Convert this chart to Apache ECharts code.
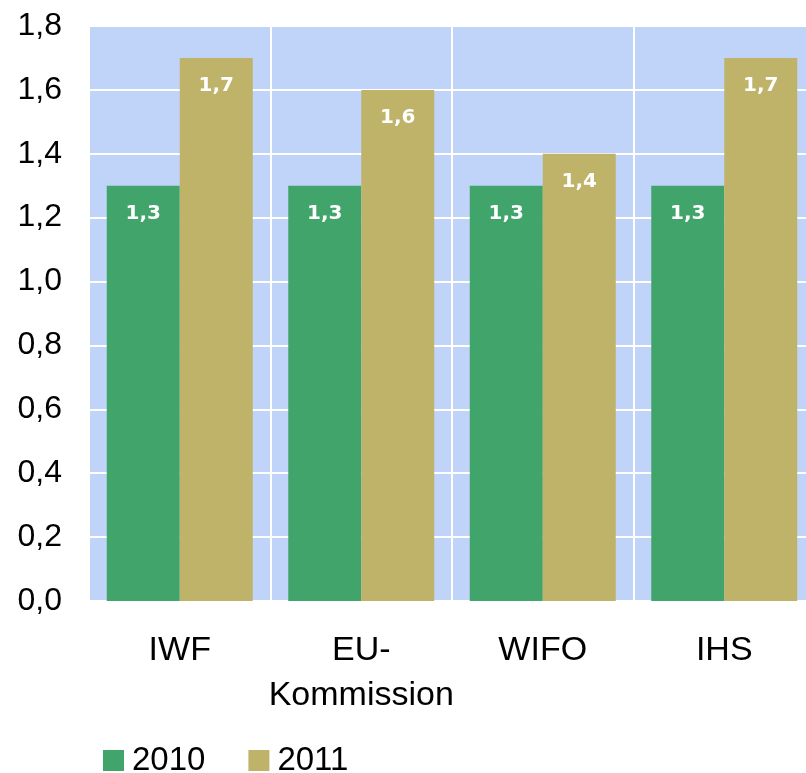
<!DOCTYPE html>
<html>
<head>
<meta charset="utf-8">
<script src="https://cdn.jsdelivr.net/npm/echarts@6/dist/echarts.min.js"></script>
<style>
  html, body { margin: 0; padding: 0; background: #fff; overflow: hidden; }
  #chart { width: 815px; height: 773px; }
</style>
</head>
<body>
<div id="chart"></div>
<script>
// Kategorien und Werte
const categories = ['IWF', 'EU-\nKommission', 'WIFO', 'IHS']
const values2010 = [1.3, 1.3, 1.3, 1.3]
const values2011 = [1.7, 1.6, 1.4, 1.7]
const seriesNames = ['2010', '2011']

const fmt = v => Number(v).toFixed(1).replace('.', ',')

// Diagrammfläche ragt rechts etwas über das Bild hinaus
const chart = echarts.init(document.getElementById('chart'))

const barLabel = {
  show: true,
  position: 'insideTop',
  distance: 18,
  color: '#fff',
  fontFamily: 'DejaVu Sans',
  fontWeight: 'bold',
  fontSize: 20,
  formatter: p => fmt(p.value)
}

const option = {
  animation: false,
  legend: {
    data: seriesNames,
    left: 98,
    top: 739,
    icon: 'rect',
    itemWidth: 21,
    itemHeight: 21,
    itemGap: 43,
    textStyle: {
      fontFamily: 'Liberation Sans',
      fontSize: 33,
      color: '#000',
      padding: [0, 0, 0, 3]
    }
  },
  grid: {
    left: 89,
    top: 26,
    right: 0,
    bottom: 172,
    show: true,
    backgroundColor: '#c0d3f8',
    borderWidth: 0
  },
  xAxis: {
    type: 'category',
    data: categories,
    axisLine: { show: false },
    axisTick: { show: false },
    axisLabel: {
      interval: 0,
      margin: 27,
      fontFamily: 'Liberation Sans',
      fontSize: 34,
      lineHeight: 45,
      color: '#000'
    },
    splitLine: { show: true, interval: 0, lineStyle: { color: '#fff', width: 2 } }
  },
  yAxis: {
    type: 'value',
    min: 0,
    max: 1.8,
    interval: 0.2,
    axisLine: { show: false },
    axisTick: { show: false },
    axisLabel: {
      margin: 27,
      fontFamily: 'Liberation Sans',
      fontSize: 32,
      color: '#000',
      formatter: fmt
    },
    splitLine: { lineStyle: { color: '#fff', width: 2 } }
  },
  series: [
    {
      name: seriesNames[0],
      type: 'bar',
      data: values2010,
      barWidth: 73,
      barGap: 0,
      itemStyle: { color: '#41a46a' },
      label: barLabel
    },
    {
      name: seriesNames[1],
      type: 'bar',
      data: values2011,
      barWidth: 73,
      barGap: 0,
      itemStyle: { color: '#bfb369' },
      label: barLabel
    }
  ]
}

chart.setOption(option)
</script>
</body>
</html>
